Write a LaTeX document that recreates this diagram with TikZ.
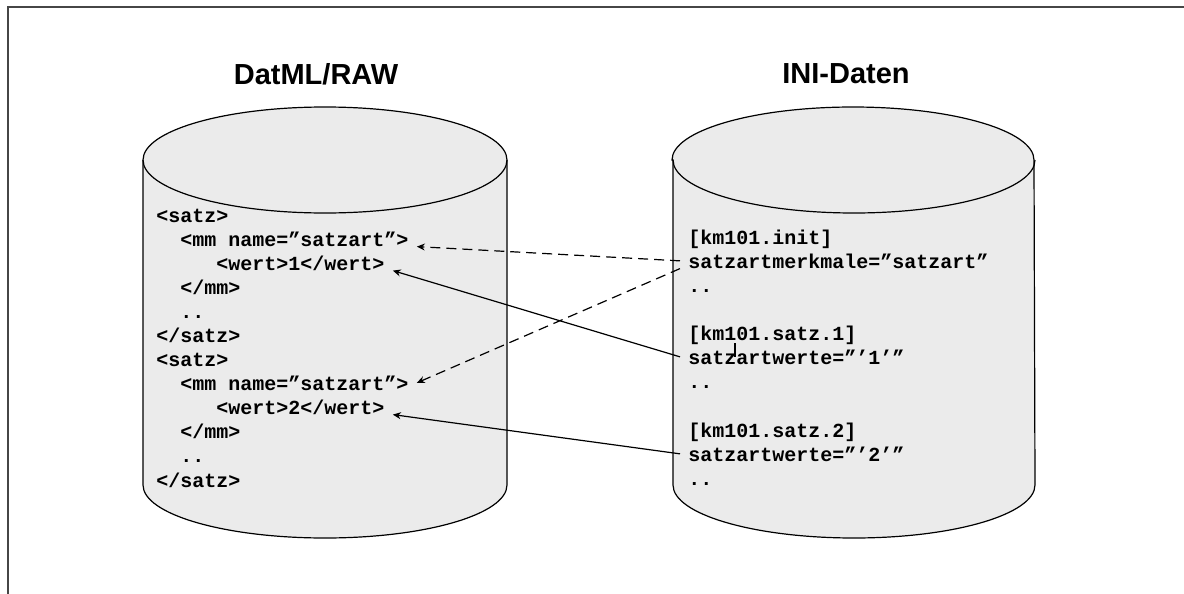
\documentclass[tikz,border=0pt]{standalone}
\usepackage{fontspec}
\newfontfamily\codefont{Liberation Mono}
\newfontfamily\titlefont{Liberation Sans}
\usepackage{tikz}
\usetikzlibrary{arrows.meta, calc}
\definecolor{dbgray}{RGB}{235, 235, 235}
\definecolor{framegray}{RGB}{70, 70, 70}
\tikzset{
    dbbody/.style={draw, fill=dbgray, line width=0.6pt},
    dbtitle/.style={font=\titlefont\bfseries\fontsize{14.5}{16}\selectfont, inner sep=0pt},
    codeline/.style={anchor=base west, font=\codefont\bfseries\fontsize{10}{12}\selectfont, inner xsep=4pt, inner ysep=0pt},
    refarrow/.style={-{Stealth[length=4pt, width=3.5pt]}, line width=0.6pt},
    refdashed/.style={refarrow, dash pattern=on 5pt off 3pt},
}

\begin{document}
\begin{tikzpicture}[x=0.5pt, y=-0.5pt]
    \useasboundingbox (0,0) rectangle (1184,594);
    \draw[framegray, line width=1pt] (8,594) -- (8,7) -- (1184,7);

    \draw[dbbody] (143,160) -- (143,485) arc[start angle=180, end angle=360, x radius=91pt, y radius=26.5pt]
        -- (507,160) arc[start angle=0, end angle=180, x radius=91pt, y radius=26.5pt] -- cycle;
    \draw[line width=0.6pt] (143,160) arc[start angle=180, end angle=360, x radius=91pt, y radius=26.5pt];
    \draw[dbbody] (673,160) -- (673,485) arc[start angle=180, end angle=360, x radius=90.5pt, y radius=26.5pt]
        -- (1034,160) arc[start angle=0, end angle=180, x radius=90.5pt, y radius=26.5pt] -- cycle;
    \draw[line width=0.6pt] (673,160) arc[start angle=180, end angle=360, x radius=90.5pt, y radius=26.5pt];

    \node[dbtitle] (rawtitle) at (316,74) {DatML/RAW};
    \node[dbtitle] (inititle) at (846,74) {INI-Daten};

    \node[codeline] (raw1) at (148,222) {<satz>};
    \node[codeline] (raw2) at (172,246) {<mm name=”satzart”>};
    \node[codeline] (raw3) at (208,270) {<wert>1</wert>};
    \node[codeline] (raw4) at (172,294) {</mm>};
    \node[codeline] (raw5) at (172,318) {..};
    \node[codeline] (raw6) at (148,342) {</satz>};
    \node[codeline] (raw7) at (148,366) {<satz>};
    \node[codeline] (raw8) at (172,390) {<mm name=”satzart”>};
    \node[codeline] (raw9) at (208,414) {<wert>2</wert>};
    \node[codeline] (raw10) at (172,438) {</mm>};
    \node[codeline] (raw11) at (172,462) {..};
    \node[codeline] (raw12) at (148,487) {</satz>};

    \node[codeline] (ini1) at (680,244) {[km101.init]};
    \node[codeline] (ini2) at (680,268) {satzartmerkmale=”satzart”};
    \node[codeline] (ini3) at (680,292) {..};
    \node[codeline] (ini4) at (680,340) {[km101.satz.1]};
    \node[codeline] (ini5) at (680,364) {satzartwerte=”’1’”};
    \node[codeline] (ini6) at (680,388) {..};
    \node[codeline] (ini7) at (680,437) {[km101.satz.2]};
    \node[codeline] (ini8) at (680,461) {satzartwerte=”’2’”};
    \node[codeline] (ini9) at (680,485) {..};

    \draw[refdashed] (ini2.west) -- (raw2.south east);
    \draw[refdashed] (ini2.south west) -- (raw8.east);
    \draw[refarrow] (ini5.west) -- (raw3.south east);
    \draw[refarrow] (ini8.west) -- (raw9.south east);
    \coordinate (tick) at (735,343);
    \draw[line width=0.6pt] (tick) -- (tick |- ini5.west);
\end{tikzpicture}
\end{document}
